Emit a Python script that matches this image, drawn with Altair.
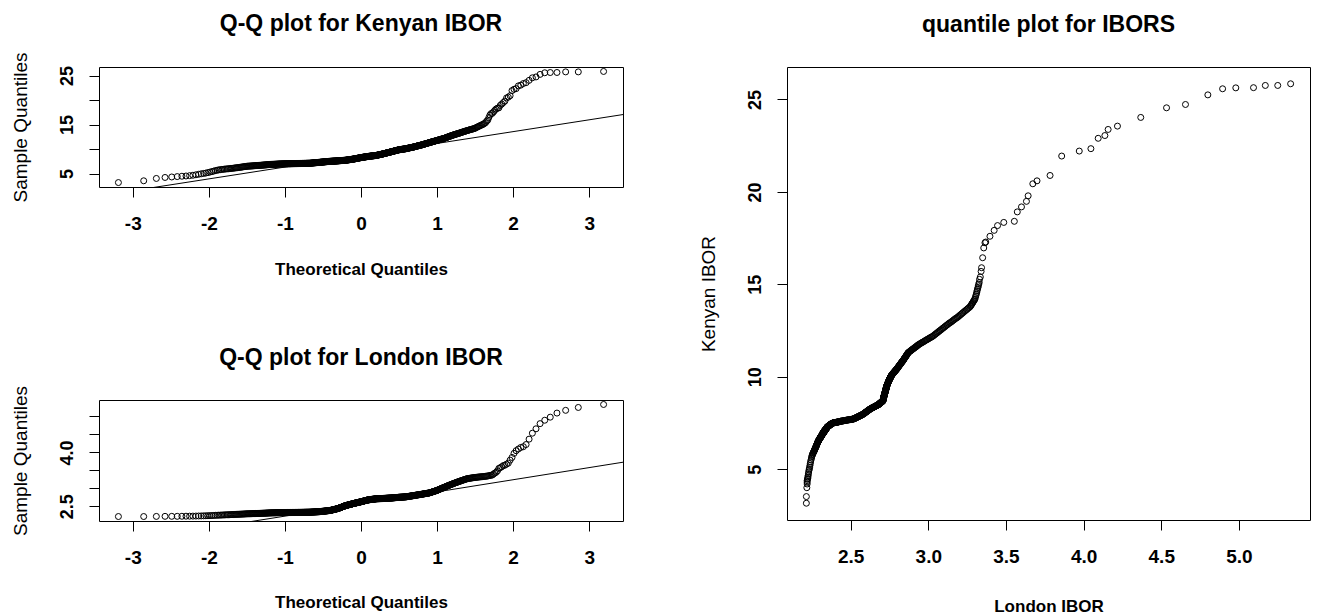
import altair as alt
import pandas as pd
import numpy as np
from statistics import NormalDist

kenyan_ibor = [
    3.16, 3.52, 4.00, 4.20, 4.30, 4.38, 4.45, 4.50, 4.57, 4.65, 4.75, 4.85, 4.95, 5.02, 5.10, 5.20, 5.30, 5.40, 5.50, 5.60, 5.68, 5.74, 5.79, 5.83, 5.87, 5.90,
    5.93, 5.96, 5.98, 6.01, 6.04, 6.07, 6.09, 6.12, 6.15, 6.18, 6.20, 6.23, 6.26, 6.29, 6.31, 6.34, 6.37, 6.40, 6.42, 6.45, 6.48,
    6.50, 6.51, 6.52, 6.53, 6.54, 6.55, 6.56, 6.57, 6.58, 6.60, 6.61, 6.62, 6.63, 6.64, 6.65, 6.66, 6.67, 6.68, 6.69, 6.70, 6.71, 6.72, 6.73, 6.74, 6.75, 6.76, 6.77, 6.78, 6.79, 6.80, 6.81, 6.82, 6.83, 6.85,
    6.86, 6.86, 6.87, 6.87, 6.88, 6.88, 6.89, 6.89, 6.90, 6.90, 6.91, 6.91, 6.92, 6.92, 6.93, 6.93, 6.94, 6.94, 6.95, 6.95, 6.95, 6.96, 6.96, 6.96, 6.97, 6.97, 6.97, 6.98, 6.98, 6.98, 6.98,
    6.99, 6.99, 6.99, 6.99, 6.99, 6.99, 7.00, 7.00, 7.00, 7.00, 7.00, 7.00, 7.01, 7.01, 7.01, 7.01, 7.01, 7.02, 7.02, 7.02, 7.02, 7.02, 7.03, 7.03, 7.03, 7.03, 7.03, 7.04, 7.04, 7.04, 7.04, 7.04, 7.05, 7.05, 7.05, 7.05, 7.05,
    7.06, 7.06, 7.06, 7.06, 7.06, 7.07, 7.07, 7.07, 7.07, 7.07, 7.08, 7.08, 7.08, 7.08, 7.08, 7.09, 7.09, 7.09, 7.09, 7.09, 7.10, 7.10, 7.10, 7.10, 7.10, 7.10,
    7.11, 7.11, 7.12, 7.13, 7.13, 7.14, 7.14, 7.15, 7.16, 7.16, 7.17, 7.18, 7.18, 7.19, 7.19, 7.20, 7.21, 7.21, 7.22, 7.23, 7.23, 7.24, 7.24, 7.25, 7.26, 7.26, 7.27, 7.28, 7.28, 7.29, 7.29, 7.30, 7.31, 7.31, 7.32, 7.33, 7.33, 7.34, 7.34, 7.35, 7.35,
    7.36, 7.36, 7.37, 7.38, 7.38, 7.39, 7.40, 7.40, 7.41, 7.42, 7.42, 7.43, 7.43, 7.44, 7.45, 7.45, 7.46, 7.46, 7.47, 7.47, 7.48, 7.48, 7.49, 7.49, 7.50,
    7.50, 7.51, 7.51, 7.51, 7.52, 7.52, 7.52, 7.53, 7.53, 7.53, 7.54, 7.54, 7.54, 7.55, 7.55, 7.55, 7.56, 7.56, 7.56, 7.57, 7.57, 7.58, 7.58, 7.59, 7.59, 7.60, 7.60,
    7.60, 7.61, 7.61, 7.62, 7.62, 7.63, 7.63, 7.64, 7.64, 7.65, 7.65, 7.66, 7.66, 7.66, 7.67, 7.67, 7.68, 7.68, 7.68, 7.69, 7.69, 7.70, 7.70, 7.71, 7.71, 7.72, 7.72,
    7.73, 7.74, 7.75, 7.76, 7.76, 7.77, 7.78, 7.79, 7.80, 7.81, 7.81, 7.82, 7.83, 7.84, 7.85, 7.86, 7.86, 7.87, 7.88, 7.89, 7.90, 7.91, 7.91, 7.92, 7.93, 7.94, 7.95,
    7.96, 7.97, 7.98, 7.99, 8.00, 8.01, 8.02, 8.03, 8.04, 8.06, 8.07, 8.08, 8.09, 8.10, 8.11, 8.12, 8.13, 8.14, 8.15, 8.17, 8.18, 8.19, 8.20, 8.21, 8.22, 8.23, 8.24, 8.25,
    8.26, 8.27, 8.28, 8.29, 8.30, 8.31, 8.32, 8.33, 8.34, 8.35, 8.35, 8.36, 8.37, 8.38, 8.39, 8.40, 8.41, 8.42, 8.43, 8.43, 8.44, 8.45, 8.46, 8.47, 8.48, 8.48, 8.49, 8.50,
    8.51, 8.52, 8.52, 8.53, 8.54, 8.55, 8.55, 8.56, 8.57, 8.58, 8.58, 8.59, 8.60, 8.60, 8.61, 8.62, 8.62, 8.63, 8.64, 8.64, 8.65, 8.66, 8.66, 8.67, 8.68, 8.68, 8.69, 8.70,
    8.71, 8.73, 8.74, 8.75, 8.77, 8.78, 8.79, 8.80, 8.82, 8.83, 8.84, 8.86, 8.87, 8.88, 8.90, 8.91, 8.92, 8.94, 8.95, 8.96, 8.97, 8.99, 9.00, 9.01, 9.02, 9.04, 9.05,
    9.07, 9.08, 9.10, 9.11, 9.13, 9.14, 9.16, 9.18, 9.19, 9.21, 9.22, 9.24, 9.25, 9.27, 9.28, 9.30, 9.31, 9.33, 9.34, 9.36, 9.37, 9.39, 9.40, 9.42, 9.43, 9.45,
    9.47, 9.48, 9.50, 9.51, 9.53, 9.55, 9.56, 9.58, 9.59, 9.61, 9.63, 9.64, 9.66, 9.67, 9.69, 9.71, 9.72, 9.74, 9.75, 9.77, 9.79, 9.80, 9.82, 9.83, 9.85,
    9.86, 9.87, 9.88, 9.89, 9.90, 9.91, 9.92, 9.93, 9.94, 9.95, 9.96, 9.97, 9.98, 9.99, 10.00, 10.01, 10.02, 10.03, 10.04, 10.05, 10.06, 10.07, 10.08, 10.10,
    10.12, 10.13, 10.15, 10.16, 10.18, 10.19, 10.21, 10.22, 10.24, 10.25, 10.27, 10.28, 10.30, 10.31, 10.33, 10.34, 10.36, 10.37, 10.39, 10.40, 10.42, 10.43, 10.45,
    10.47, 10.49, 10.51, 10.53, 10.55, 10.57, 10.59, 10.61, 10.63, 10.65, 10.66, 10.68, 10.70, 10.72, 10.74, 10.76, 10.78, 10.80, 10.82, 10.83, 10.85,
    10.87, 10.90, 10.92, 10.94, 10.97, 10.99, 11.02, 11.04, 11.06, 11.09, 11.11, 11.13, 11.16, 11.18, 11.21, 11.23, 11.25, 11.28, 11.30,
    11.33, 11.35, 11.38, 11.40, 11.43, 11.45, 11.48, 11.50, 11.53, 11.55, 11.58, 11.60, 11.63, 11.65, 11.68, 11.70, 11.73, 11.75,
    11.78, 11.81, 11.84, 11.86, 11.89, 11.92, 11.95, 11.98, 12.01, 12.03, 12.06, 12.09, 12.12, 12.14, 12.17, 12.20,
    12.24, 12.28, 12.32, 12.36, 12.40, 12.44, 12.48, 12.52, 12.56, 12.60, 12.64, 12.68, 12.72, 12.76, 12.80,
    12.84, 12.88, 12.92, 12.95, 12.99, 13.03, 13.07, 13.11, 13.15, 13.18, 13.22, 13.26, 13.30,
    13.35, 13.39, 13.44, 13.48, 13.53, 13.57, 13.62, 13.66, 13.71, 13.75, 13.80,
    13.84, 13.89, 13.93, 13.98, 14.02, 14.07, 14.11, 14.16, 14.20,
    14.29, 14.38, 14.47, 14.56, 14.65, 14.74, 14.83, 14.92, 15.01, 15.10,
    15.27, 15.40, 15.70, 15.90, 16.44, 16.97, 17.25, 17.29, 17.60, 17.92, 18.18, 18.35, 18.41, 18.92, 19.19, 19.49, 19.79, 20.44, 20.60, 20.89,
    21.94, 22.21, 22.34, 22.90, 23.05, 23.38, 23.56, 24.03, 24.55, 24.73, 25.25, 25.58, 25.63, 25.64, 25.76, 25.76, 25.85,
]

london_ibor = [
    2.215, 2.215, 2.218, 2.220, 2.220, 2.220, 2.222, 2.224, 2.225, 2.226, 2.228, 2.230, 2.232, 2.234, 2.236, 2.238, 2.240, 2.242, 2.245, 2.248, 2.250, 2.252, 2.254, 2.256, 2.258, 2.260,
    2.262, 2.263, 2.265, 2.266, 2.268, 2.269, 2.270, 2.272, 2.273, 2.275, 2.276, 2.277, 2.279, 2.280, 2.281, 2.283, 2.284, 2.285, 2.287, 2.288, 2.290,
    2.290, 2.291, 2.292, 2.292, 2.293, 2.294, 2.295, 2.295, 2.296, 2.297, 2.298, 2.298, 2.299, 2.300, 2.301, 2.301, 2.302, 2.303, 2.304, 2.304, 2.305, 2.306, 2.307, 2.307, 2.308, 2.309, 2.310, 2.310, 2.311, 2.312, 2.313, 2.313, 2.314, 2.315,
    2.316, 2.316, 2.316, 2.317, 2.317, 2.317, 2.318, 2.318, 2.318, 2.319, 2.319, 2.319, 2.320, 2.320, 2.320, 2.321, 2.321, 2.321, 2.322, 2.322, 2.322, 2.323, 2.323, 2.323, 2.324, 2.324, 2.324, 2.325, 2.325, 2.325, 2.325,
    2.326, 2.326, 2.326, 2.326, 2.326, 2.326, 2.326, 2.326, 2.326, 2.327, 2.327, 2.327, 2.327, 2.327, 2.327, 2.327, 2.328, 2.328, 2.328, 2.328, 2.328, 2.328, 2.328, 2.329, 2.329, 2.329, 2.329, 2.329, 2.329, 2.329, 2.330, 2.330, 2.330, 2.330, 2.330, 2.330, 2.330,
    2.331, 2.331, 2.331, 2.331, 2.331, 2.332, 2.332, 2.332, 2.332, 2.332, 2.333, 2.333, 2.333, 2.333, 2.333, 2.334, 2.334, 2.334, 2.334, 2.334, 2.335, 2.335, 2.335, 2.335, 2.335, 2.335,
    2.336, 2.336, 2.337, 2.337, 2.338, 2.338, 2.339, 2.339, 2.340, 2.340, 2.341, 2.341, 2.342, 2.342, 2.343, 2.343, 2.344, 2.344, 2.345, 2.345, 2.346, 2.346, 2.347, 2.347, 2.348, 2.348, 2.349, 2.349, 2.350, 2.350, 2.351, 2.352, 2.353, 2.354, 2.355, 2.356, 2.357, 2.358, 2.359, 2.360, 2.360,
    2.361, 2.362, 2.363, 2.364, 2.365, 2.366, 2.367, 2.368, 2.369, 2.370, 2.371, 2.372, 2.373, 2.374, 2.375, 2.376, 2.377, 2.378, 2.379, 2.380, 2.381, 2.382, 2.383, 2.384, 2.385,
    2.387, 2.389, 2.391, 2.393, 2.395, 2.397, 2.399, 2.401, 2.403, 2.405, 2.407, 2.409, 2.411, 2.413, 2.415, 2.417, 2.419, 2.421, 2.423, 2.425, 2.427, 2.429, 2.431, 2.433, 2.435, 2.437, 2.440,
    2.443, 2.446, 2.449, 2.452, 2.455, 2.458, 2.461, 2.464, 2.467, 2.470, 2.473, 2.476, 2.479, 2.482, 2.485, 2.488, 2.491, 2.494, 2.497, 2.500, 2.503, 2.506, 2.509, 2.512, 2.515, 2.518, 2.520,
    2.522, 2.524, 2.526, 2.528, 2.530, 2.532, 2.534, 2.536, 2.538, 2.540, 2.542, 2.544, 2.546, 2.548, 2.550, 2.552, 2.554, 2.556, 2.558, 2.560, 2.562, 2.564, 2.566, 2.568, 2.570, 2.572, 2.575,
    2.577, 2.579, 2.581, 2.582, 2.584, 2.586, 2.588, 2.589, 2.591, 2.593, 2.595, 2.597, 2.598, 2.600, 2.602, 2.604, 2.605, 2.607, 2.609, 2.611, 2.613, 2.614, 2.616, 2.618, 2.620, 2.621, 2.623, 2.625,
    2.627, 2.629, 2.631, 2.633, 2.635, 2.637, 2.639, 2.641, 2.643, 2.645, 2.647, 2.649, 2.651, 2.653, 2.655, 2.657, 2.659, 2.661, 2.663, 2.665, 2.667, 2.669, 2.671, 2.673, 2.675, 2.677, 2.679, 2.680,
    2.681, 2.682, 2.683, 2.684, 2.685, 2.686, 2.687, 2.688, 2.689, 2.690, 2.691, 2.692, 2.693, 2.694, 2.695, 2.696, 2.697, 2.698, 2.699, 2.700, 2.701, 2.702, 2.703, 2.704, 2.705, 2.706, 2.707, 2.708,
    2.708, 2.709, 2.709, 2.710, 2.710, 2.710, 2.711, 2.711, 2.711, 2.712, 2.712, 2.712, 2.713, 2.713, 2.713, 2.714, 2.714, 2.714, 2.715, 2.715, 2.715, 2.716, 2.716, 2.717, 2.717, 2.718, 2.718,
    2.719, 2.719, 2.720, 2.720, 2.721, 2.721, 2.722, 2.722, 2.723, 2.723, 2.724, 2.724, 2.725, 2.725, 2.726, 2.726, 2.727, 2.727, 2.728, 2.728, 2.729, 2.729, 2.729, 2.730, 2.730, 2.730,
    2.731, 2.732, 2.732, 2.733, 2.734, 2.735, 2.735, 2.736, 2.737, 2.738, 2.738, 2.739, 2.740, 2.741, 2.741, 2.742, 2.743, 2.744, 2.744, 2.745, 2.746, 2.747, 2.748, 2.749, 2.750,
    2.751, 2.751, 2.752, 2.752, 2.753, 2.753, 2.754, 2.754, 2.755, 2.755, 2.756, 2.756, 2.757, 2.758, 2.758, 2.759, 2.760, 2.760, 2.761, 2.762, 2.762, 2.763, 2.764, 2.765,
    2.767, 2.768, 2.770, 2.771, 2.773, 2.774, 2.776, 2.777, 2.779, 2.780, 2.782, 2.783, 2.785, 2.786, 2.788, 2.789, 2.791, 2.792, 2.794, 2.795, 2.797, 2.798, 2.800,
    2.802, 2.803, 2.805, 2.807, 2.808, 2.810, 2.812, 2.813, 2.815, 2.817, 2.818, 2.820, 2.822, 2.823, 2.825, 2.827, 2.828, 2.830, 2.832, 2.833, 2.835,
    2.837, 2.839, 2.841, 2.843, 2.844, 2.846, 2.848, 2.850, 2.852, 2.854, 2.856, 2.858, 2.859, 2.861, 2.863, 2.865, 2.867, 2.869, 2.870,
    2.874, 2.878, 2.882, 2.886, 2.889, 2.893, 2.897, 2.901, 2.905, 2.909, 2.913, 2.917, 2.921, 2.925, 2.928, 2.932, 2.936, 2.940,
    2.946, 2.951, 2.957, 2.962, 2.968, 2.974, 2.979, 2.985, 2.991, 2.996, 3.002, 3.007, 3.013, 3.019, 3.024, 3.030,
    3.036, 3.042, 3.048, 3.054, 3.060, 3.066, 3.072, 3.078, 3.084, 3.090, 3.096, 3.102, 3.108, 3.114, 3.120,
    3.126, 3.132, 3.138, 3.145, 3.151, 3.157, 3.163, 3.169, 3.175, 3.182, 3.188, 3.194, 3.200,
    3.206, 3.213, 3.219, 3.225, 3.232, 3.238, 3.245, 3.251, 3.257, 3.264, 3.270,
    3.273, 3.277, 3.280, 3.283, 3.287, 3.290, 3.293, 3.297, 3.300,
    3.303, 3.306, 3.309, 3.312, 3.314, 3.317, 3.320, 3.322, 3.325, 3.328,
    3.330, 3.335, 3.340, 3.343, 3.350, 3.357, 3.365, 3.370, 3.397, 3.424, 3.446, 3.486, 3.554, 3.573, 3.600, 3.632, 3.643, 3.673, 3.700, 3.784,
    3.859, 3.972, 4.047, 4.094, 4.137, 4.158, 4.218, 4.368, 4.534, 4.656, 4.800, 4.895, 4.980, 5.094, 5.170, 5.250, 5.333,
]

qq_x_ticks = [-3, -2, -1, 0, 1, 2, 3]
kenyan_ticks = [5, 10, 15, 20, 25]
kenyan_qq_labeled = [5, 15, 25]
london_ticks = [2.5, 3.0, 3.5, 4.0, 4.5, 5.0]
london_qq_labeled = [2.5, 4.0]

FONT = "Liberation Sans, Arial, Helvetica, sans-serif"
nd = NormalDist()

LEFT_W = 524          # width of each Q-Q panel
PANEL_GAP = 164       # gap between the left column and the right panel


def ppoints(m):
    a = 3 / 8 if m <= 10 else 0.5
    return [(i - a) / (m + 1 - 2 * a) for i in range(1, m + 1)]


def pad_range(v):
    lo, hi = min(v), max(v)
    d = 0.04 * (hi - lo)
    return [lo - d, hi + d]


def title(text, offset):
    return alt.Title(text, font=FONT, fontSize=23, fontWeight="bold", color="black",
                     anchor="middle", frame="group", baseline="alphabetic", offset=offset)


def point_mark(chart):
    return chart.mark_point(shape="circle", filled=False, size=36, strokeWidth=1,
                            color="black", opacity=1)


def x_axis(ticks, label_expr, ttl, width, title_y):
    return alt.Axis(values=ticks, labelExpr=label_expr, title=ttl,
                    labelFontSize=19, labelFontWeight="bold", labelPadding=26,
                    labelBaseline="middle", labelAlign="center", labelFlush=False,
                    labelOverlap=False,
                    titleX=width / 2, titleY=title_y, titleAlign="center",
                    titleBaseline="middle", titleFontSize=17, titleFontWeight="bold")


def y_axis(ticks, label_expr, ttl, height):
    return alt.Axis(values=ticks, labelExpr=label_expr, title=ttl,
                    labelFontSize=18, labelFontWeight="bold", labelAngle=270,
                    labelAlign="center", labelBaseline="middle", labelPadding=22,
                    labelFlush=False, labelOverlap=False,
                    titleX=-79, titleY=height / 2, titleAngle=270, titleAlign="center",
                    titleBaseline="middle", titleFontSize=19, titleFontWeight="normal")


def qq_panel(values, ttl, y_ticks, y_labeled, y_fmt, width, height, title_y):
    vals = sorted(values)
    theo = [nd.inv_cdf(p) for p in ppoints(len(vals))]
    xdom = pad_range(theo)
    ydom = pad_range(vals)
    df = pd.DataFrame({"theo": theo, "sample": vals})
    q1, q3 = np.quantile(vals, [0.25, 0.75])
    z1, z3 = nd.inv_cdf(0.25), nd.inv_cdf(0.75)
    slope = (q3 - q1) / (z3 - z1)
    icpt = q1 - slope * z1
    line_df = pd.DataFrame({"theo": xdom, "sample": [icpt + slope * x for x in xdom]})
    xsc = alt.Scale(domain=xdom, nice=False, zero=False)
    ysc = alt.Scale(domain=ydom, nice=False, zero=False)
    ylab = f"indexof({y_labeled}, datum.value) >= 0 ? {y_fmt} : ''"
    xax = x_axis(qq_x_ticks, "toString(datum.value)", "Theoretical Quantiles", width, title_y)
    yax = y_axis(y_ticks, ylab, "Sample Quantiles", height)
    pts = point_mark(alt.Chart(df)).encode(
        x=alt.X("theo:Q", scale=xsc, axis=xax),
        y=alt.Y("sample:Q", scale=ysc, axis=yax),
    )
    ln = alt.Chart(line_df).mark_line(color="black", strokeWidth=1, clip=True).encode(
        x=alt.X("theo:Q", scale=xsc, axis=xax),
        y=alt.Y("sample:Q", scale=ysc, axis=yax),
    )
    # the rotated y title reaches ~15px above the plot, so the title offset is smaller
    return alt.layer(pts, ln).properties(width=width, height=height, title=title(ttl, -2))


top_left = qq_panel(kenyan_ibor, "Q-Q plot for Kenyan IBOR", kenyan_ticks, kenyan_qq_labeled,
                    "toString(datum.value)", LEFT_W, 120, 82)
bottom_left = qq_panel(london_ibor, "Q-Q plot for London IBOR", london_ticks, london_qq_labeled,
                       "format(datum.value, '.1f')", LEFT_W, 121, 81)

# quantile-quantile plot of the two samples (sorted against each other)
ks = sorted(kenyan_ibor)
ls = sorted(london_ibor)
if len(ks) != len(ls):
    m = min(len(ks), len(ls))
    if len(ks) > m:
        ks = list(np.interp(np.linspace(0, len(ks) - 1, m), np.arange(len(ks)), ks))
    if len(ls) > m:
        ls = list(np.interp(np.linspace(0, len(ls) - 1, m), np.arange(len(ls)), ls))
pair_df = pd.DataFrame({"london": ls, "kenyan": ks})

RW, RH = 523, 453
right = point_mark(alt.Chart(pair_df)).encode(
    x=alt.X("london:Q", scale=alt.Scale(domain=pad_range(ls), nice=False, zero=False),
            axis=x_axis(london_ticks, "format(datum.value, '.1f')", "London IBOR", RW, 86)),
    y=alt.Y("kenyan:Q", scale=alt.Scale(domain=pad_range(ks), nice=False, zero=False),
            axis=y_axis(kenyan_ticks, "toString(datum.value)", "Kenyan IBOR", RH)),
).properties(width=RW, height=RH, title=title("quantile plot for IBORS", 12.5))

left = alt.vconcat(top_left, bottom_left, spacing=213, bounds="flush")
# with flush bounds the nested column counts as zero-width, so its plot width is
# included in the spacing
chart = alt.hconcat(left, right, spacing=LEFT_W + PANEL_GAP, bounds="flush").properties(
    padding={"left": 10, "top": 12, "right": 0, "bottom": 0},
    background="white",
).configure_view(stroke="black", strokeWidth=1).configure_axis(
    domain=False, grid=False, ticks=True, tickSize=10, tickWidth=1, tickColor="black",
    labelColor="black", titleColor="black", labelFont=FONT, titleFont=FONT,
)

chart.save("out.html", embed_options={"renderer": "svg", "actions": False})
